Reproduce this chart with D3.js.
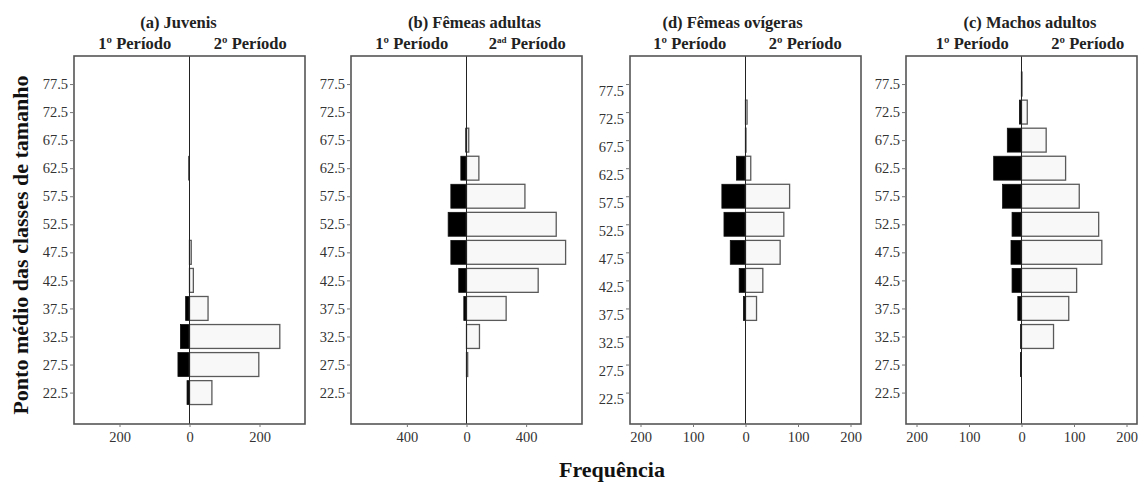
<!DOCTYPE html>
<html>
<head>
<meta charset="utf-8">
<script src="https://cdn.jsdelivr.net/npm/d3@7/dist/d3.min.js"></script>
<style>
  html, body { margin: 0; padding: 0; background: #fff; }
  svg { display: block; font-family: "Liberation Serif", "Times New Roman", serif; }
</style>
</head>
<body>
<svg id="chart" width="1138" height="482"></svg>
<script>
// Size-class midpoints (mm)
const classes = [22.5, 27.5, 32.5, 37.5, 42.5, 47.5, 52.5, 57.5, 62.5, 67.5, 72.5, 77.5];

// Frequencies per class: period 1 (left, black) and period 2 (right, white)
const juvenisP1  = [7, 33, 26, 11, 0, 0, 0, 0, 2, 0, 0, 0];
const juvenisP2  = [64, 198, 258, 53, 11, 5, 0, 0, 0, 0, 0, 0];
const femeasP1   = [0, 0, 0, 18, 52, 105, 123, 105, 38, 5, 0, 0];
const femeasP2   = [0, 8, 87, 266, 481, 665, 602, 392, 83, 15, 0, 0];
const ovigerasP1 = [0, 0, 0, 4, 12, 29, 41, 45, 17, 0, 0, 0];
const ovigerasP2 = [0, 0, 0, 21, 33, 66, 73, 84, 10, 1, 3, 0];
const machosP1   = [0, 2, 2, 7, 18, 20, 18, 36, 53, 27, 4, 0];
const machosP2   = [0, 0, 61, 90, 105, 153, 147, 110, 84, 47, 11, 1];

// Axis ticks
const ticksA = [-200, 0, 200];
const ticksB = [-400, 0, 400];
const ticksCD = [-200, -100, 0, 100, 200];

const titles = ["(a) Juvenis", "(b) Fêmeas adultas", "(d) Fêmeas ovígeras", "(c) Machos adultos"];

// Panel layout
const panels = [
  { title: titles[0], p1: juvenisP1,  p2: juvenisP2,  max: 330, ticks: ticksA,  x0: 74,  titleDx: -11, periodDx: 3, labelDy: 0, sup: "º" },
  { title: titles[1], p1: femeasP1,   p2: femeasP2,   max: 775, ticks: ticksB,  x0: 351, titleDx: 8,   periodDx: 3, labelDy: 0, sup: "ad" },
  { title: titles[2], p1: ovigerasP1, p2: ovigerasP2, max: 220, ticks: ticksCD, x0: 630, titleDx: -13, periodDx: 2, labelDy: 6.5, sup: "º" },
  { title: titles[3], p1: machosP1,   p2: machosP2,   max: 220, ticks: ticksCD, x0: 906, titleDx: 8.5, periodDx: 8.5, labelDy: 0, sup: "º" }
];

const svg = d3.select("#chart");
const W = 231, plotTop = 56, plotBottom = 424;
const y = d3.scaleLinear().domain([16.9, 82.5]).range([plotBottom, plotTop]);
const half = 2.13; // half bar thickness, in class units

panels.forEach(p => {
  const g = svg.append("g");
  const x = d3.scaleLinear().domain([-p.max, p.max]).range([p.x0, p.x0 + W]);
  const x0 = x(0);
  const cx = p.x0 + W / 2;

  // period 1 bars (black, to the left)
  g.selectAll("rect.p1").data(classes.map((c, i) => ({ c, v: p.p1[i] })).filter(d => d.v > 0))
    .join("rect").attr("class", "p1")
    .attr("x", d => x(-d.v)).attr("width", d => x0 - x(-d.v))
    .attr("y", d => y(d.c + half)).attr("height", d => y(d.c - half) - y(d.c + half))
    .attr("fill", "#000").attr("stroke", "#111").attr("stroke-width", 0.8);

  // period 2 bars (white, to the right)
  g.selectAll("rect.p2").data(classes.map((c, i) => ({ c, v: p.p2[i] })).filter(d => d.v > 0))
    .join("rect").attr("class", "p2")
    .attr("x", x0).attr("width", d => x(d.v) - x0)
    .attr("y", d => y(d.c + half)).attr("height", d => y(d.c - half) - y(d.c + half))
    .attr("fill", "#f8f8f8").attr("stroke", "#5a5a5a").attr("stroke-width", 1.3);

  // zero line
  g.append("line").attr("x1", x0).attr("x2", x0).attr("y1", plotTop).attr("y2", plotBottom)
    .attr("stroke", "#222").attr("stroke-width", 1);

  // frame
  g.append("rect").attr("x", p.x0).attr("y", plotTop).attr("width", W).attr("height", plotBottom - plotTop)
    .attr("fill", "none").attr("stroke", "#555").attr("stroke-width", 1.6);

  // y axis
  const ya = g.append("g").attr("transform", `translate(${p.x0},0)`)
    .call(d3.axisLeft(y).tickValues(classes).tickFormat(d3.format(".1f")).tickSize(4).tickPadding(2));
  ya.select(".domain").remove();
  ya.selectAll(".tick line").attr("stroke", "#777");
  ya.selectAll(".tick text").attr("font-family", "Liberation Serif").attr("font-size", 14.5)
    .attr("fill", "#333").attr("dy", (0.32 + p.labelDy / 14.5) + "em");

  // x axis
  const xa = g.append("g").attr("transform", `translate(0,${plotBottom})`)
    .call(d3.axisBottom(x).tickValues(p.ticks).tickFormat(d => Math.abs(d)).tickSize(3).tickPadding(5));
  xa.select(".domain").remove();
  xa.selectAll(".tick line").attr("stroke", "#777");
  xa.selectAll(".tick text").attr("font-family", "Liberation Serif").attr("font-size", 14.5).attr("fill", "#333");

  // titles
  g.append("text").attr("x", cx + p.titleDx).attr("y", 28).attr("text-anchor", "middle")
    .attr("font-weight", "bold").attr("font-size", 16.5).attr("fill", "#222").text(p.title);

  g.append("text").attr("x", (p.x0 + x0) / 2 + p.periodDx).attr("y", 49).attr("text-anchor", "middle")
    .attr("font-weight", "bold").attr("font-size", 16.5).attr("fill", "#222").text("1º Período");

  const t2 = g.append("text").attr("x", (x0 + p.x0 + W) / 2 + p.periodDx).attr("y", 49).attr("text-anchor", "middle")
    .attr("font-weight", "bold").attr("font-size", 16.5).attr("fill", "#222");
  if (p.sup === "ad") {
    t2.append("tspan").text("2");
    t2.append("tspan").attr("font-size", 9).attr("dy", -6).text("ad");
    t2.append("tspan").attr("dy", 6).text(" Período");
  } else {
    t2.text("2º Período");
  }
});

// shared axis titles
svg.append("text").attr("transform", "translate(28,245) rotate(-90)").attr("text-anchor", "middle")
  .attr("font-weight", "bold").attr("font-size", 22).attr("fill", "#111")
  .text("Ponto médio das classes de tamanho");

svg.append("text").attr("x", 612).attr("y", 477).attr("text-anchor", "middle")
  .attr("font-weight", "bold").attr("font-size", 22).attr("fill", "#111").text("Frequência");
</script>
</body>
</html>
